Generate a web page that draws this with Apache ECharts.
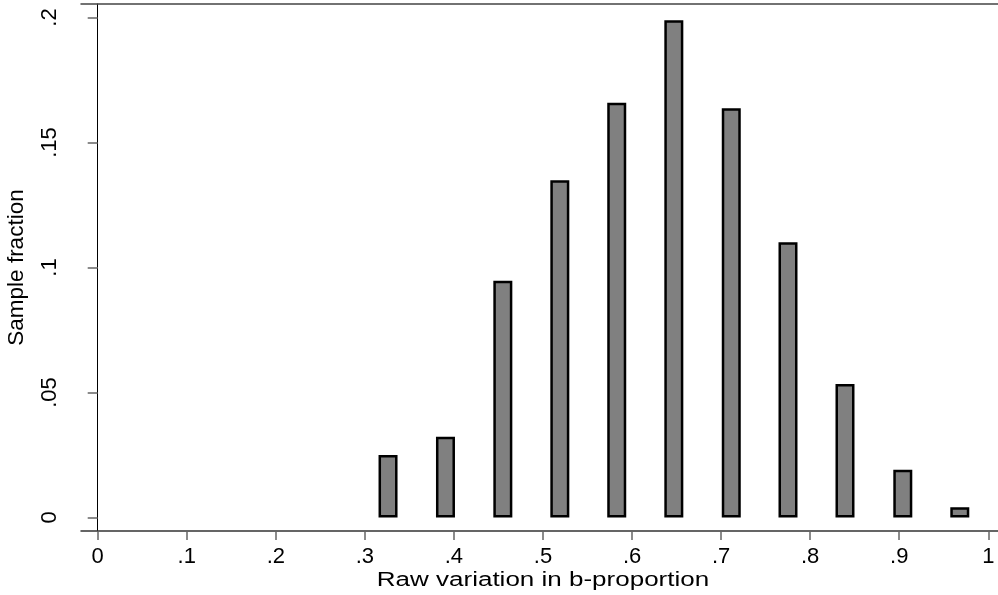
<!DOCTYPE html>
<html>
<head>
<meta charset="utf-8">
<script src="https://cdn.jsdelivr.net/npm/echarts@6/dist/echarts.min.js"></script>
<style>
    html,body{margin:0;padding:0;background:#fff;}
    #main{width:998px;height:595px;}
</style>
</head>
<body>
<div id="main"></div>
<script>
// 直方图数据：柱中心位置 与 样本比例
var binCenters = [0.326, 0.3905, 0.4549, 0.5189, 0.5828, 0.6469, 0.7114, 0.7751, 0.8391, 0.904, 0.968];
var fractions  = [0.025, 0.0323, 0.0947, 0.1349, 0.1659, 0.1989, 0.1637, 0.1101, 0.0534, 0.0191, 0.0041];
var xTicks = [0, 0.1, 0.2, 0.3, 0.4, 0.5, 0.6, 0.7, 0.8, 0.9, 1];
var yTicks = [0, 0.05, 0.1, 0.15, 0.2];

var colors = ['#808080', '#000000', '#666666']; // 柱填充 边框黑 刻度灰

function stataLabel(v){
    // 去掉前导0： 0.1 -> .1
    return String(+v.toFixed(2)).replace(/^0\./, '.');
}

var seriesData = [];
for (var i = 0; i < binCenters.length; i++) {
    seriesData.push([binCenters[i], fractions[i]]);
}

var myChart = echarts.init(document.getElementById('main'));
var option = {
    animation: false,
    grid: {
        left: 81,
        right: 0,
        top: 4,
        bottom: 64,
        outerBoundsMode: 'none'   // 不自动收缩网格
    },
    xAxis: [{
        type: 'value',
        min: -0.01875,
        max: 1.0109,
        position: 'bottom',
        axisLine: {
            onZero: false,
            lineStyle: {color: '#333', width: 1.5}
        },
        axisTick: {
            show: true,
            length: 9,
            customValues: xTicks,
            lineStyle: {color: colors[2], width: 1.5}
        },
        axisLabel: {
            customValues: xTicks,
            margin: 15,
            color: '#000',
            fontFamily: 'Liberation Sans',
            fontSize: 22,
            formatter: stataLabel
        },
        splitLine: {show: false}
    }, {
        // 顶部边框线
        type: 'value',
        min: -0.01875,
        max: 1.0109,
        position: 'top',
        axisLine: {show: true, onZero: false, lineStyle: {color: '#444', width: 1.5}},
        axisTick: {show: false},
        axisLabel: {show: false},
        splitLine: {show: false}
    }],
    yAxis: {
        type: 'value',
        min: -0.0054,
        max: 0.2054,
        name: 'Sample fraction',
        nameLocation: 'middle',
        nameGap: 53,
        nameTextStyle: {
            color: '#000',
            fontFamily: 'Liberation Sans',
            fontSize: 22.5
        },
        axisLine: {
            show: true,
            lineStyle: {color: colors[1], width: 1}
        },
        axisTick: {
            show: true,
            length: 10,
            customValues: yTicks,
            lineStyle: {color: colors[2], width: 1.5}
        },
        axisLabel: {
            customValues: yTicks,
            rotate: 90,
            margin: 20,
            color: '#000',
            fontFamily: 'Liberation Sans',
            fontSize: 22,
            formatter: stataLabel
        },
        splitLine: {show: false}
    },
    graphic: [{
        // x轴标题（原图横向拉伸）
        type: 'text',
        x: 543,
        y: 580,
        scaleX: 1.3,
        style: {
            text: 'Raw variation in b-proportion',
            fill: '#000',
            font: '20px "Liberation Sans"',
            align: 'center',
            verticalAlign: 'middle'
        }
    }],
    series: [{
        type: 'bar',
        data: seriesData,
        barWidth: 19,
        itemStyle: {
            color: colors[0],
            borderColor: colors[1],
            borderWidth: 2.5
        }
    }]
};
myChart.setOption(option);
</script>
</body>
</html>
